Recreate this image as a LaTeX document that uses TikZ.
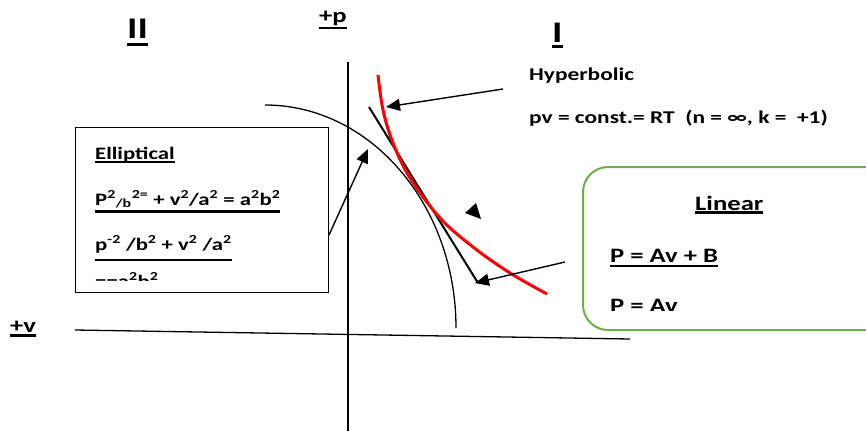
\documentclass[tikz,border=0pt]{standalone}
\usepackage{fontspec}
\setmainfont{Carlito}[FakeStretch=1.3]
\usetikzlibrary{arrows.meta}

\definecolor{hypred}{RGB}{255,0,0}
\definecolor{lingreen}{RGB}{112,173,71}

% underline: #1 thickness, #2 depth below baseline, #3 text
\newcommand\ulin[3][2.2]{\setbox0\hbox{#3}\rlap{\rule[-#2pt]{\wd0}{#1pt}}\box0}

\begin{document}
\begin{tikzpicture}[x=1pt, y=-1pt,
  lbl/.style={anchor=base west, inner sep=0pt, font=\bfseries\fontsize{17.5}{20}\selectfont},
  biglbl/.style={lbl, font=\bfseries\fontsize{20.5}{24}\selectfont},
  quadlbl/.style={lbl, font=\bfseries\fontsize{30}{34}\selectfont},
  axis/.style={line width=1.3pt},
  pointer/.style={line width=1.4pt, -{Triangle[length=14pt,width=12pt]}}]
  \useasboundingbox (0,0) rectangle (866,431);

  % axes
  \coordinate (ptop) at (348,62);
  \coordinate (pbot) at (348,431);
  \coordinate (vleft) at (75,330);
  \coordinate (vright) at (630,339);
  \draw[axis] (ptop) -- (pbot);
  \draw[axis] (vleft) -- (vright);

  % axis and quadrant labels
  \node[biglbl] (plbl) at (319,22) {\ulin{7}{+p}};
  \node[biglbl] (vlbl) at (10,332) {\ulin{4.5}{+v}};
  \node[quadlbl] (quadII) at (127,38) {\ulin[3]{8}{II}};
  \node[quadlbl] (quadI) at (552,42) {\ulin[2.7]{6}{I}};

  % elliptical arc
  \draw[line width=1.3pt] (265,105) arc[start angle=90, end angle=0, x radius=191pt, y radius=223pt];

  % tangent line
  \coordinate (tanA) at (369,107);
  \coordinate (tanB) at (478,283);
  \draw[line width=2pt] (tanA) -- (tanB);

  % hyperbola pv = const
  \draw[hypred, line width=3pt] plot[smooth, tension=0.6] coordinates
    {(378,75) (383,110) (393,143) (410,178) (440,218) (473,247) (510,273) (547,294)};

  % stray arrow tip
  \fill (465,213) -- (476,203) -- (481,219) -- cycle;

  % hyperbolic label
  \node[lbl, font=\bfseries\fontsize{18}{20}\selectfont] (hyptitle) at (529,80) {Hyperbolic};
  \node[lbl, font=\bfseries\fontsize{18}{20}\selectfont] (hypeq) at (529,123)
    {pv = const.= RT\ \ (n = ∞, k =\ \ +1)};

  % elliptical box
  \node[draw, line width=1.3pt, anchor=north west, inner sep=0pt,
        minimum width=253pt, minimum height=165pt] (ellbox) at (75,127) {};
  \begin{scope}
    \clip (76,128) rectangle (327,280);
    \node[lbl] (elltitle) at (95,159) {\ulin{4}{Elliptical}};
    \node[lbl] (elleqA) at (95,205)
      {\ulin{7.5}{P\textsuperscript{2}\textsubscript{/b}\textsuperscript{2=} + v\textsuperscript{2}/a\textsuperscript{2} = a\textsuperscript{2}b\textsuperscript{2}}};
    \node[lbl] (elleqB) at (95,250)
      {\ulin{11}{p\textsuperscript{-2} /b\textsuperscript{2} + v\textsuperscript{2} /a\textsuperscript{2}}};
    \node[lbl] (elleqC) at (95,287) {\ulin{4}{==a\textsuperscript{2}b\textsuperscript{2}}};
  \end{scope}

  % linear box
  \node[draw=lingreen, line width=2pt, rounded corners=25pt, anchor=north west,
        inner sep=0pt, minimum width=310pt, minimum height=163pt] (linbox) at (582,166) {};
  \begin{scope}
    \clip (583,167) rectangle (866,310);
    \node[biglbl] (lintitle) at (695,210) {\ulin{3.5}{Linear}};
    \node[biglbl] (lineqA) at (610,262) {\ulin{5}{P = Av + B}};
    \node[biglbl] (lineqB) at (610,312) {P = Av};
  \end{scope}

  % pointers
  \coordinate (hypfrom) at (503,89);
  \coordinate (hypto) at (386,107);
  \coordinate (ellfrom) at (329,235);
  \coordinate (ellto) at (368,149);
  \coordinate (linfrom) at (565,262);
  \coordinate (linto) at (475,283);
  \draw[pointer] (hypfrom) -- (hypto);
  \draw[pointer] (ellfrom) -- (ellto);
  \draw[pointer] (linfrom) -- (linto);
\end{tikzpicture}
\end{document}
